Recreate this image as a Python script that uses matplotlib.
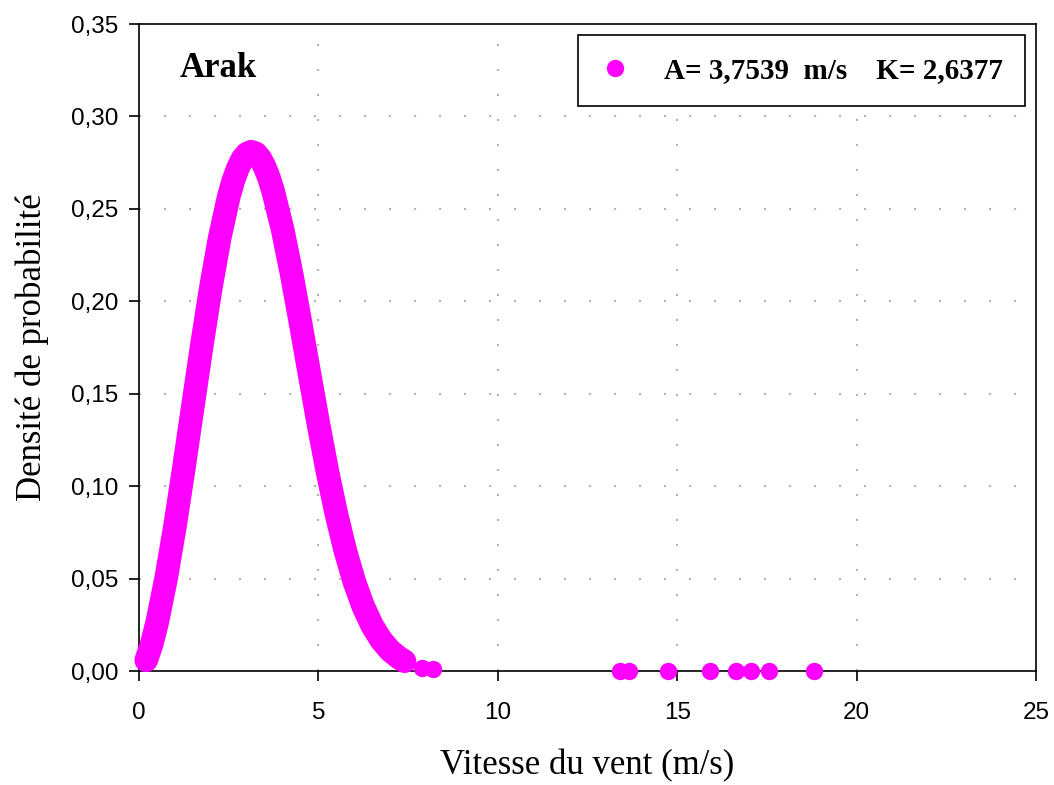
"""Weibull probability density for Arak wind speeds."""
import matplotlib

matplotlib.use("Agg")
import matplotlib.pyplot as plt

# wind speed (m/s) and probability density
speed = [0.2, 0.35, 0.5, 0.75, 1.0, 1.25, 1.5, 1.75, 2.0, 2.25, 2.5, 2.625,
         2.75, 2.875, 3.0, 3.125, 3.25, 3.375, 3.5, 3.625, 3.75, 4.0, 4.25,
         4.5, 4.75, 5.0, 5.25, 5.5, 5.75, 6.0, 6.25, 6.5, 6.75, 7.0, 7.25,
         7.4]
density = [0.0058, 0.0144, 0.0258, 0.0496, 0.0781, 0.1099, 0.1431, 0.1762,
           0.2072, 0.2345, 0.2565, 0.2651, 0.2718, 0.2768, 0.2798, 0.2809,
           0.2801, 0.2774, 0.2728, 0.2666, 0.2587, 0.2390, 0.2151, 0.1884,
           0.1608, 0.1336, 0.1080, 0.0850, 0.0650, 0.0483, 0.0349, 0.0245,
           0.0167, 0.0110, 0.0071, 0.0053]
# isolated high-speed observations
tail_speed = [7.9, 8.2, 13.4, 13.65, 14.75, 15.9, 16.65, 17.05, 17.55, 18.8]
tail_density = [0.0019, 0.0010, 0.0, 0.0, 0.0, 0.0, 0.0, 0.0, 0.0, 0.0]

legend_label = "A= 3,7539  m/s    K= 2,6377"
station = "Arak"
xticks = [0, 5, 10, 15, 20, 25]
yticks = [0.0, 0.05, 0.10, 0.15, 0.20, 0.25, 0.30, 0.35]

MAGENTA = "#ff00ff"
SANS = "Liberation Sans"
SERIF = "Liberation Serif"

fig = plt.figure(figsize=(10.54, 7.85), dpi=100)
ax = fig.add_axes([0.1319, 0.1452, 0.8511, 0.8242])

# dense band formed by the overlapping fitted points
ax.plot(speed, density, color=MAGENTA, lw=17, solid_capstyle="round",
        solid_joinstyle="round", zorder=3, clip_on=False)
ax.plot(tail_speed, tail_density, "o", color=MAGENTA, ms=12.5, mew=0,
        label=legend_label, zorder=4, clip_on=False)

ax.set_xlim(0, 25)
ax.set_ylim(0, 0.35)
ax.set_xticks(xticks)
ax.set_yticks(yticks)
ax.set_xticklabels([str(t) for t in xticks], family=SANS, fontsize=17.5)
ax.set_yticklabels([f"{t:.2f}".replace(".", ",") for t in yticks],
                   family=SANS, fontsize=17.5)
ax.tick_params(direction="out", length=7, width=1.2, pad=8)
ax.tick_params(axis="x", pad=15)
for sp in ax.spines.values():
    sp.set_linewidth(1.2)
    sp.set_color("black")

for x in xticks[1:-1]:
    ax.axvline(x, color="#b4b4b4", lw=1.5, dashes=(1, 11), zorder=1)
for y in yticks[1:-1]:
    ax.axhline(y, color="#b4b4b4", lw=1.5, dashes=(1, 11), zorder=1)

ax.set_xlabel("Vitesse du vent (m/s)", family=SERIF, fontsize=25)
ax.set_ylabel("Densité de probabilité", family=SERIF, fontsize=25)
ax.xaxis.set_label_coords(0.5, -0.121)
ax.yaxis.set_label_coords(-0.1, 0.5)

ax.text(0.0457, 0.918, station, transform=ax.transAxes, family=SERIF,
        fontweight="bold", fontsize=25, va="baseline")

leg = ax.legend(loc="upper right", bbox_to_anchor=(0.988, 0.983),
                borderaxespad=0, fancybox=False, edgecolor="black",
                framealpha=1, handlelength=1.0, handletextpad=1.2,
                borderpad=0.75, markerscale=1.0,
                prop={"family": SERIF, "weight": "bold", "size": 21})
leg.get_frame().set_linewidth(1.2)

fig.savefig("out.png", dpi=100, facecolor="white")
